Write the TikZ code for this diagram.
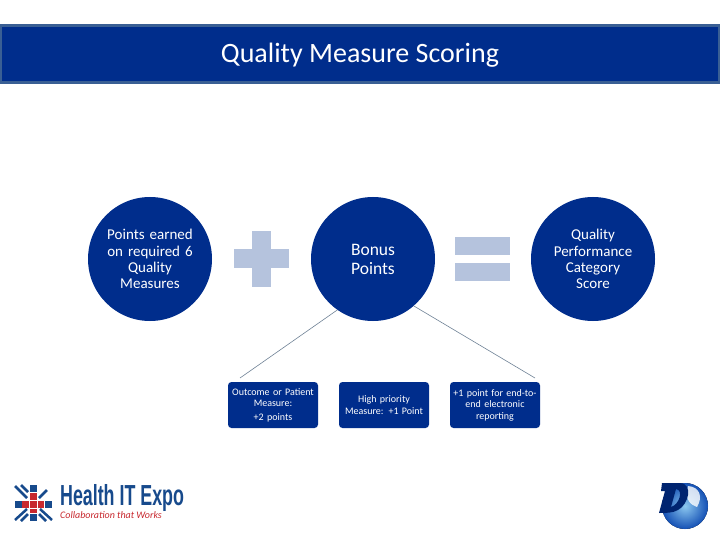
\documentclass[tikz,border=0pt]{standalone}
\usepackage{fontspec}
\setmainfont{Carlito}
\newfontfamily\logofont{Liberation Sans}
\definecolor{navy}{HTML}{002D8C}
\definecolor{edgeblue}{HTML}{3A5F94}
\definecolor{markblue}{HTML}{B5C3DD}
\definecolor{logoblue}{HTML}{174A8C}
\definecolor{logored}{HTML}{C8282E}
\definecolor{linegray}{HTML}{6F8296}
\definecolor{globelight}{HTML}{8CC8F0}
\definecolor{globedark}{HTML}{1450B4}
\tikzset{
  disc/.style={circle,fill=navy,minimum size=124pt,inner sep=0pt,text=white,align=center,font=\fontsize{15}{16.3}\selectfont,text width=100pt},
  minibox/.style={rounded corners=3.5pt,fill=navy,minimum width=90pt,minimum height=46pt,inner sep=1pt,text=white,align=center,text width=88pt,font=\fontsize{10}{11.5}\selectfont},
  opmark/.style={fill=markblue,draw=none},
  link/.style={draw=linegray,line width=0.6pt},
  bluebit/.style={fill=logoblue,draw=none},
  redbit/.style={fill=logored,draw=none}
}
\begin{document}
\begin{tikzpicture}[x=1pt,y=-1pt]
\useasboundingbox (0,0) rectangle (720,540);
\fill[white] (0,0) rectangle (720,540);
\node[draw=edgeblue,line width=3pt,fill=navy,minimum width=719pt,minimum height=57pt,inner sep=0pt,anchor=center] (titlebar) at (360,54) {};
\node[text=white,font=\fontsize{28}{30}\selectfont] (titletext) at (360,55) {Quality Measure Scoring};

\node[disc] (left) at (150,259) {Points earned\\on required 6\\Quality\\Measures};
\node[disc,font=\fontsize{17.5}{19}\selectfont] (mid) at (373,259) {Bonus\\Points};
\node[disc] (right) at (593,259) {Quality\\Performance\\Category\\Score};

\fill[opmark] (234,249) rectangle (289,268);
\fill[opmark] (252,231) rectangle (271,287);
\fill[opmark] (455,237) rectangle (510,255);
\fill[opmark] (455,263) rectangle (510,281);

\node[minibox] (a) at (273,405) {Outcome or Patient\\Measure:\\[2pt]+2 points};
\node[minibox] (b) at (384,405) {High priority\\Measure: +1 Point};
\node[minibox] (c) at (495,405) {+1 point for end-to-\\end electronic\\reporting};

\coordinate (la) at (240,378);
\coordinate (lc) at (535,378);
\draw[link] (mid.235) -- (la);
\draw[link] (mid.311) -- (lc);

% Health IT Expo logo
\begin{scope}
\fill[bluebit] (30,485) rectangle (37,492);
\fill[bluebit] (15,501) rectangle (22,508);
\fill[bluebit] (45,501) rectangle (52,508);
\fill[bluebit] (30,514) rectangle (37,521);
\fill[redbit] (30,493) rectangle (37,500);
\fill[redbit] (22,501) rectangle (29,508);
\fill[redbit] (30,501) rectangle (37,508);
\fill[redbit] (38,501) rectangle (44,508);
\fill[redbit] (30,509) rectangle (37,513);
\draw[logoblue,line width=2.5pt] (15,486) -- (27,498);
\draw[logoblue,line width=2.5pt] (21,485) -- (28,492);
\draw[logoblue,line width=2.5pt] (15,520) -- (27,509);
\draw[logoblue,line width=2.5pt] (21,521) -- (28,514);
\draw[logoblue,line width=2.5pt] (52,520) -- (40,509);
\draw[logoblue,line width=2.5pt] (46,521) -- (39,514);
\draw[logoblue,line width=2.5pt] (47,490) -- (39,498);
\end{scope}
\node[text=logoblue,font=\logofont\bfseries\fontsize{29}{29}\selectfont,anchor=west,inner sep=0pt,xscale=0.615] (logotext) at (60,498) {Health IT Expo};
\node[text=logored,font=\itshape\fontsize{10}{10}\selectfont,anchor=west,inner sep=0pt] (logotag) at (60,515) {Collaboration that Works};

% D globe logo
\fill[inner color=globelight,outer color=globedark] (685,506) circle (23);
\fill[white,opacity=0.8] (688,486) .. controls (700,487) and (703,497) .. (697,507) .. controls (691,505) and (684,500) .. (688,486);
\fill[navy!80!black,even odd rule] (662,483) -- (680,483) .. controls (694,484) and (688,505) .. (678,510) .. controls (673,513) and (666,513) .. (659,513) -- (665,491) -- (661,491) -- cycle (676,489) -- (671,507) .. controls (679,505) and (684,490) .. (676,489) -- cycle;
\end{tikzpicture}
\end{document}
